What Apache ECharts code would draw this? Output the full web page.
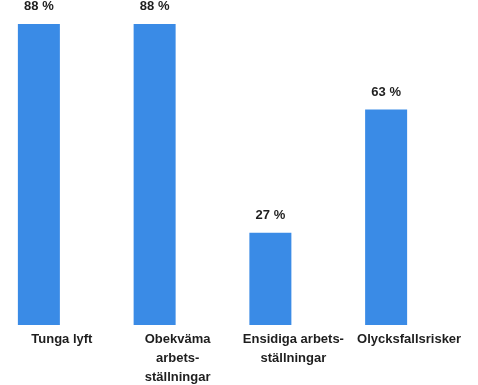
<!DOCTYPE html>
<html>
<head>
<meta charset="utf-8">
<script src="https://cdn.jsdelivr.net/npm/echarts@6/dist/echarts.min.js"></script>
<style>
html,body{margin:0;padding:0;background:#fff;}
#chart{width:478px;height:385px;}
</style>
</head>
<body>
<div id="chart"></div>
<script>
var categories = ["Tunga lyft", "Obekväma\narbets-\nställningar", "Ensidiga arbets-\nställningar", "Olycksfallsrisker"];
var values = [88, 88, 27, 63];
var valueSuffix = " %";

var chart = echarts.init(document.getElementById('chart'), null, {renderer: 'canvas'});
chart.setOption({
  animation: false,
  backgroundColor: '#ffffff',
  grid: {left: -19, right: 34, top: 24, bottom: 60, containLabel: false, outerBoundsMode: 'none'},
  xAxis: {
    type: 'category',
    data: categories,
    axisLine: {show: false},
    axisTick: {show: false},
    axisLabel: {
      interval: 0,
      margin: 5,
      color: '#1e1e1e',
      fontFamily: 'Liberation Sans, Arial, sans-serif',
      fontWeight: 'bold',
      fontSize: 13,
      lineHeight: 19,
      align: 'center',
      padding: [0, 0, 0, 46]
    }
  },
  yAxis: {
    type: 'value',
    min: 0,
    max: 'dataMax',
    show: false,
    splitLine: {show: false}
  },
  series: [{
    type: 'bar',
    data: values,
    barWidth: 42,
    itemStyle: {color: '#3a8be6'},
    label: {
      show: true,
      position: 'top',
      distance: 11,
      formatter: function (p) { return p.value + valueSuffix; },
      color: '#1e1e1e',
      fontFamily: 'Liberation Sans, Arial, sans-serif',
      fontWeight: 'bold',
      fontSize: 13
    }
  }]
});
</script>
</body>
</html>
